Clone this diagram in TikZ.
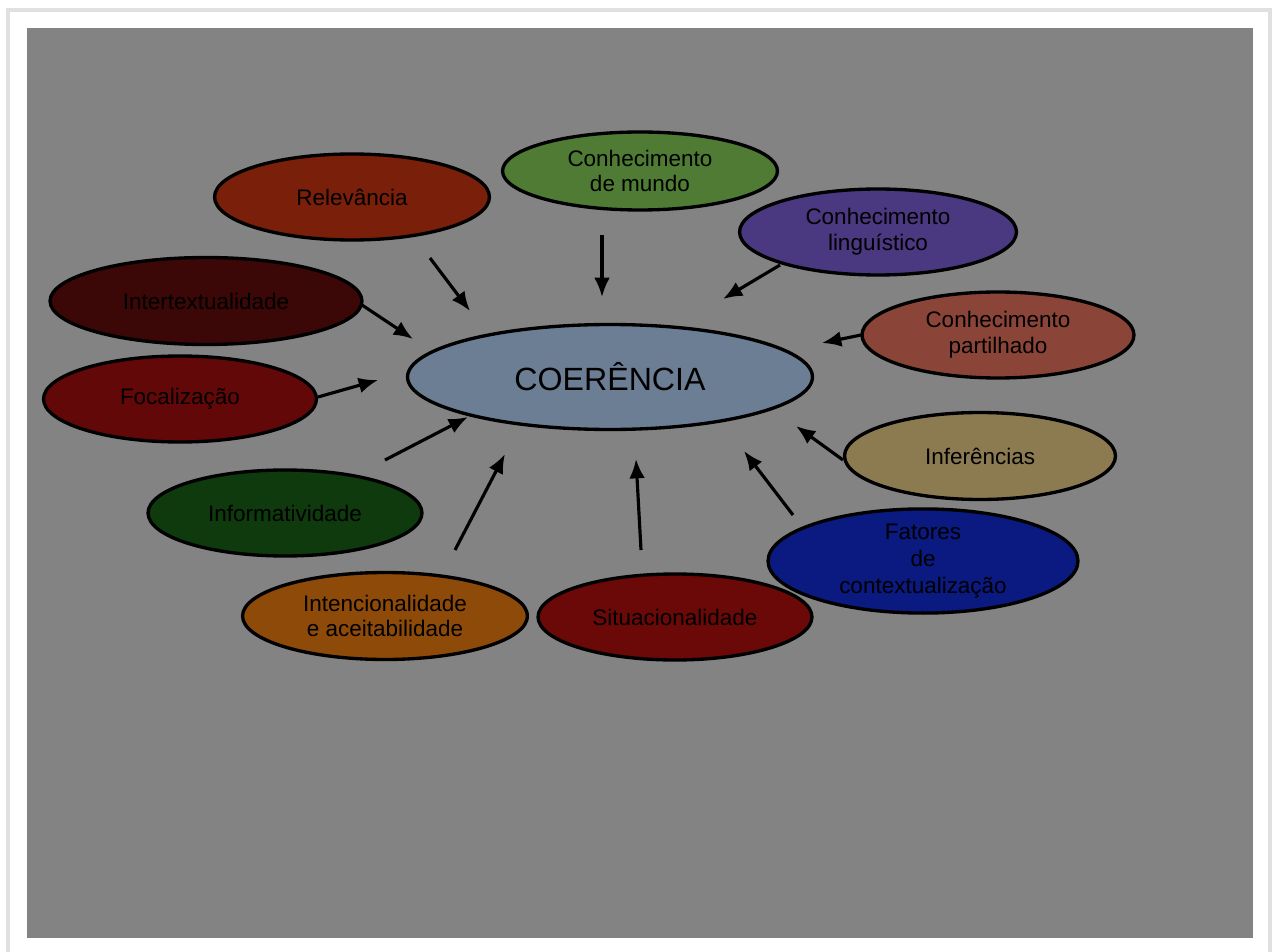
\documentclass[tikz,border=0pt]{standalone}
\usepackage{fontspec}
\setmainfont{Liberation Sans}
\usetikzlibrary{shapes.geometric}
\usetikzlibrary{arrows.meta}

\definecolor{bggray}{HTML}{838383}
\definecolor{cCoe}{HTML}{6C7E94}
\definecolor{cRel}{HTML}{7A1F0A}
\definecolor{cMundo}{HTML}{4F7B35}
\definecolor{cLing}{HTML}{4A3880}
\definecolor{cPart}{HTML}{8A4538}
\definecolor{cInf}{HTML}{8C7B51}
\definecolor{cFat}{HTML}{0A1A80}
\definecolor{cSit}{HTML}{6B0808}
\definecolor{cInt}{HTML}{8E4A08}
\definecolor{cInfo}{HTML}{0E3A0E}
\definecolor{cFoc}{HTML}{620808}
\definecolor{cInter}{HTML}{3B0707}

\tikzset{
  oval/.style={ellipse, draw=black, line width=1.9pt, inner sep=0pt, align=center,
    minimum width=5.5cm, minimum height=1.72cm,
    font=\fontsize{12.8}{14.6}\selectfont},
  arr/.style={-{Latex[length=11pt,width=9pt]}, line width=1.8pt}
}

\begin{document}
\begin{tikzpicture}[x=0.02cm, y=-0.02cm]
    \useasboundingbox (0,0) rectangle (1280,952);
    \fill[white] (0,0) rectangle (1280,952);                                %page
    \draw[black!12, line width=2pt] (8,10) rectangle (1270,975);           %card
    \fill[bggray] (27,28) rectangle (1253,938);                             %slide

    \node[oval, fill=cCoe, minimum width=8.1cm, minimum height=2.1cm,
          font=\fontsize{18.3}{20}\selectfont] (coe) at (610,377) {COERÊNCIA};

    \node[oval, fill=cRel] (rel) at (352,197) {Relevância};
    \node[oval, fill=cMundo, minimum height=1.56cm] (mundo) at (640,171) {Conhecimento\\de mundo};
    \node[oval, fill=cLing, minimum width=5.54cm] (ling) at (878,232) {Conhecimento\\linguístico};
    \node[oval, fill=cPart, minimum width=5.44cm] (part) at (998,335) {Conhecimento\\partilhado};
    \node[oval, fill=cInf, minimum width=5.42cm, minimum height=1.74cm] (inf) at (980,456) {Inferências};
    \node[oval, fill=cFat, minimum width=6.2cm, minimum height=1.74cm,
          font=\fontsize{12.8}{15.2}\selectfont] (fat) at (923,561) {Fatores\\de\\contextualização};
    \node[oval, fill=cSit, minimum width=5.48cm] (sit) at (675,617) {Situacionalidade};
    \node[oval, fill=cInt, minimum width=5.7cm, minimum height=1.74cm] (int) at (385,616) {Intencionalidade\\e aceitabilidade};
    \node[oval, fill=cInfo, minimum width=5.48cm] (info) at (285,513) {Informatividade};
    \node[oval, fill=cFoc, minimum width=5.46cm] (foc) at (180,399) {Focalização};
    \node[oval, fill=cInter, minimum width=6.24cm, minimum height=1.74cm] (inter) at (206,301) {Intertextualidade};

    %arrow ends
    \coordinate (relS) at (430,258);   \coordinate (relE) at (470,311);
    \coordinate (munS) at (602,235);   \coordinate (munE) at (602,297);
    \coordinate (linS) at (780,265);   \coordinate (linE) at (723,299);
    \coordinate (parS) at (861,335);   \coordinate (parE) at (822,343);
    \coordinate (infS) at (843,460);   \coordinate (infE) at (796,426);
    \coordinate (fatS) at (793,515);   \coordinate (fatE) at (744,451);
    \coordinate (sitS) at (641,550);   \coordinate (sitE) at (636,459);
    \coordinate (intS) at (455,550);   \coordinate (intE) at (505,454);
    \coordinate (infoS) at (385,460);  \coordinate (infoE) at (468,417);
    \coordinate (focS) at (318,397);   \coordinate (focE) at (378,380);
    \coordinate (intrS) at (362,305);  \coordinate (intrE) at (413,339);

    \draw[arr] (relS) -- (relE);     %relevancia
    \draw[arr] (munS) -- (munE);     %mundo
    \draw[arr] (linS) -- (linE);     %linguistico
    \draw[arr] (parS) -- (parE);     %partilhado
    \draw[arr] (infS) -- (infE);     %inferencias
    \draw[arr] (fatS) -- (fatE);     %fatores
    \draw[arr] (sitS) -- (sitE);     %situacionalidade
    \draw[arr] (intS) -- (intE);     %intencionalidade
    \draw[arr] (infoS) -- (infoE);   %informatividade
    \draw[arr] (focS) -- (focE);     %focalizacao
    \draw[arr] (intrS) -- (intrE);   %intertextualidade
\end{tikzpicture}
\end{document}
